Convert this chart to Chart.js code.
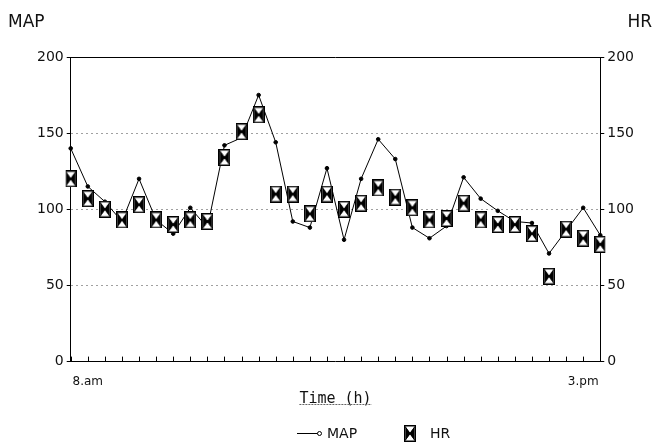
<!DOCTYPE html>
<html>
<head>
<meta charset="utf-8">
<script src="https://cdn.jsdelivr.net/npm/chart.js@4.4.1/dist/chart.umd.min.js"></script>
<style>
  html, body { margin: 0; padding: 0; background: #fff; }
  #wrap { width: 656px; height: 445px; }
</style>
</head>
<body>
<div id="wrap"><canvas id="vitalsChart" width="656" height="445"></canvas></div>
<script>
// ----------- Data -----------
const timeLabels = ['', '8.am', '', '', '', '', '', '', '', '', '', '', '', '', '', '',
                    '', '', '', '', '', '', '', '', '', '', '', '', '', '', '3.pm', ''];
const mapValues = [140, 115, 105, 92, 120, 93, 84, 101, 88, 142, 147, 175, 144, 92, 88, 127,
                   80, 120, 146, 133, 88, 81, 89, 121, 107, 99, 92, 91, 71, 86, 101, 83];
const hrValues = [120, 107, 100, 93, 103, 93, 90, 93, 92, 134, 151, 162, 110, 110, 97, 110,
                  100, 104, 114, 108, 101, 93, 94, 104, 93, 90, 90, 84, 56, 87, 81, 77];
const yTicks = [0, 50, 100, 150, 200];

const FONT = '"DejaVu Sans", "Liberation Sans", sans-serif';
const MONO = '"DejaVu Sans Mono", monospace';

// ----------- Marker images -----------
function makeHrMarker() {
    const w = 12, h = 17;
    const c = document.createElement('canvas');
    c.width = w; c.height = h;
    const g = c.getContext('2d');
    g.fillStyle = '#fff';
    g.fillRect(0, 0, w, h);
    g.strokeStyle = '#000';
    g.lineWidth = 1.5;
    g.strokeRect(0.75, 0.75, w - 1.5, h - 1.5);
    g.fillStyle = '#000';
    g.beginPath();
    g.moveTo(1.5, 2); g.lineTo(w / 2 + 0.5, h / 2); g.lineTo(1.5, h - 2);
    g.closePath(); g.fill();
    g.beginPath();
    g.moveTo(w - 1.5, 2); g.lineTo(w / 2 - 0.5, h / 2); g.lineTo(w - 1.5, h - 2);
    g.closePath(); g.fill();
    g.lineWidth = 1;
    g.beginPath();
    g.moveTo(1.5, 2); g.lineTo(w - 1.5, h - 2);
    g.moveTo(w - 1.5, 2); g.lineTo(1.5, h - 2);
    g.stroke();
    return c;
}

const hrMarker = makeHrMarker();

// ----------- Frame, inward ticks, corner labels and legend -----------
const framePlugin = {
    id: 'frame',
    afterDraw(chart) {
        const { ctx, chartArea } = chart;
        const x = chart.scales.x;
        ctx.save();
        ctx.strokeStyle = '#000';
        ctx.lineWidth = 1;
        ctx.beginPath();
        ctx.moveTo(chartArea.left, chartArea.top + 0.5);
        ctx.lineTo(chartArea.right, chartArea.top + 0.5);
        timeLabels.forEach((_, i) => {
            const px = Math.round(x.getPixelForValue(i)) + 0.5;
            ctx.moveTo(px, chartArea.bottom);
            ctx.lineTo(px, chartArea.bottom - 5);
        });
        ctx.stroke();

        // dotted underline for the x axis title
        ctx.font = '15px ' + MONO;
        const tw = ctx.measureText('Time (h)').width;
        const cx = (chartArea.left + chartArea.right) / 2;
        const uy = x.bottom - 3.5;
        ctx.strokeStyle = '#666';
        ctx.setLineDash([2, 1]);
        ctx.beginPath();
        ctx.moveTo(cx - tw / 2, uy);
        ctx.lineTo(cx + tw / 2, uy);
        ctx.stroke();
        ctx.setLineDash([]);

        // axis names in the top corners
        ctx.fillStyle = '#111';
        ctx.font = '17px ' + FONT;
        ctx.textBaseline = 'alphabetic';
        ctx.textAlign = 'left';
        ctx.fillText('MAP', 8, 27);
        ctx.textAlign = 'right';
        ctx.fillText('HR', 652, 27);

        // legend
        const ly = 433;
        ctx.strokeStyle = '#000';
        ctx.lineWidth = 1;
        ctx.beginPath();
        ctx.moveTo(297, ly + 0.5); ctx.lineTo(318, ly + 0.5);
        ctx.stroke();
        ctx.fillStyle = '#fff';
        ctx.beginPath();
        ctx.arc(319.5, ly + 0.5, 2, 0, Math.PI * 2);
        ctx.fill(); ctx.stroke();
        ctx.drawImage(hrMarker, 404, ly - 8);
        ctx.fillStyle = '#111';
        ctx.font = '14px ' + FONT;
        ctx.textAlign = 'left';
        ctx.textBaseline = 'middle';
        ctx.fillText('MAP', 327, ly + 1);
        ctx.fillText('HR', 430, ly + 1);
        ctx.restore();
    }
};

const yAxis = (position) => ({
    position: position,
    min: 0,
    max: 200,
    afterBuildTicks: axis => { axis.ticks = yTicks.map(v => ({ value: v })); },
    grid: {
        drawOnChartArea: position === 'left',
        color: c => (c.tick && (c.tick.value === 0 || c.tick.value === 200)) ? 'rgba(0,0,0,0)' : '#a0a0a0',
        tickColor: '#000',
        tickLength: 4
    },
    border: { display: true, color: '#000', width: 1, dash: [2, 3] },
    ticks: { color: '#111', padding: 3, font: { family: FONT, size: 14 } }
});

document.addEventListener('DOMContentLoaded', () => {
    const ctx = document.getElementById('vitalsChart').getContext('2d');
    new Chart(ctx, {
        type: 'line',
        data: {
            labels: timeLabels,
            datasets: [
                {
                    label: 'MAP',
                    data: mapValues,
                    yAxisID: 'y',
                    borderColor: '#000',
                    borderWidth: 1,
                    pointRadius: 1.8,
                    pointBackgroundColor: '#000',
                    pointBorderColor: '#000',
                    tension: 0,
                    order: 1
                },
                {
                    label: 'HR',
                    data: hrValues,
                    yAxisID: 'y1',
                    showLine: false,
                    pointStyle: hrMarker,
                    order: 0
                }
            ]
        },
        options: {
            responsive: false,
            animation: false,
            layout: { padding: { top: 57, left: 34, right: 19, bottom: 37 } },
            plugins: {
                tooltip: { enabled: false },
                legend: { display: false }
            },
            scales: {
                x: {
                    type: 'category',
                    offset: false,
                    grid: { drawOnChartArea: false, drawTicks: false },
                    border: { display: true, color: '#000', width: 1 },
                    ticks: {
                        autoSkip: false,
                        maxRotation: 0,
                        padding: 13,
                        color: '#111',
                        font: { family: FONT, size: 12 }
                    },
                    title: {
                        display: true,
                        text: 'Time (h)',
                        color: '#111',
                        font: { family: MONO, size: 15 },
                        padding: { top: -12, bottom: 0 }
                    }
                },
                y: yAxis('left'),
                y1: yAxis('right')
            }
        },
        plugins: [framePlugin]
    });
});
</script>
</body>
</html>
